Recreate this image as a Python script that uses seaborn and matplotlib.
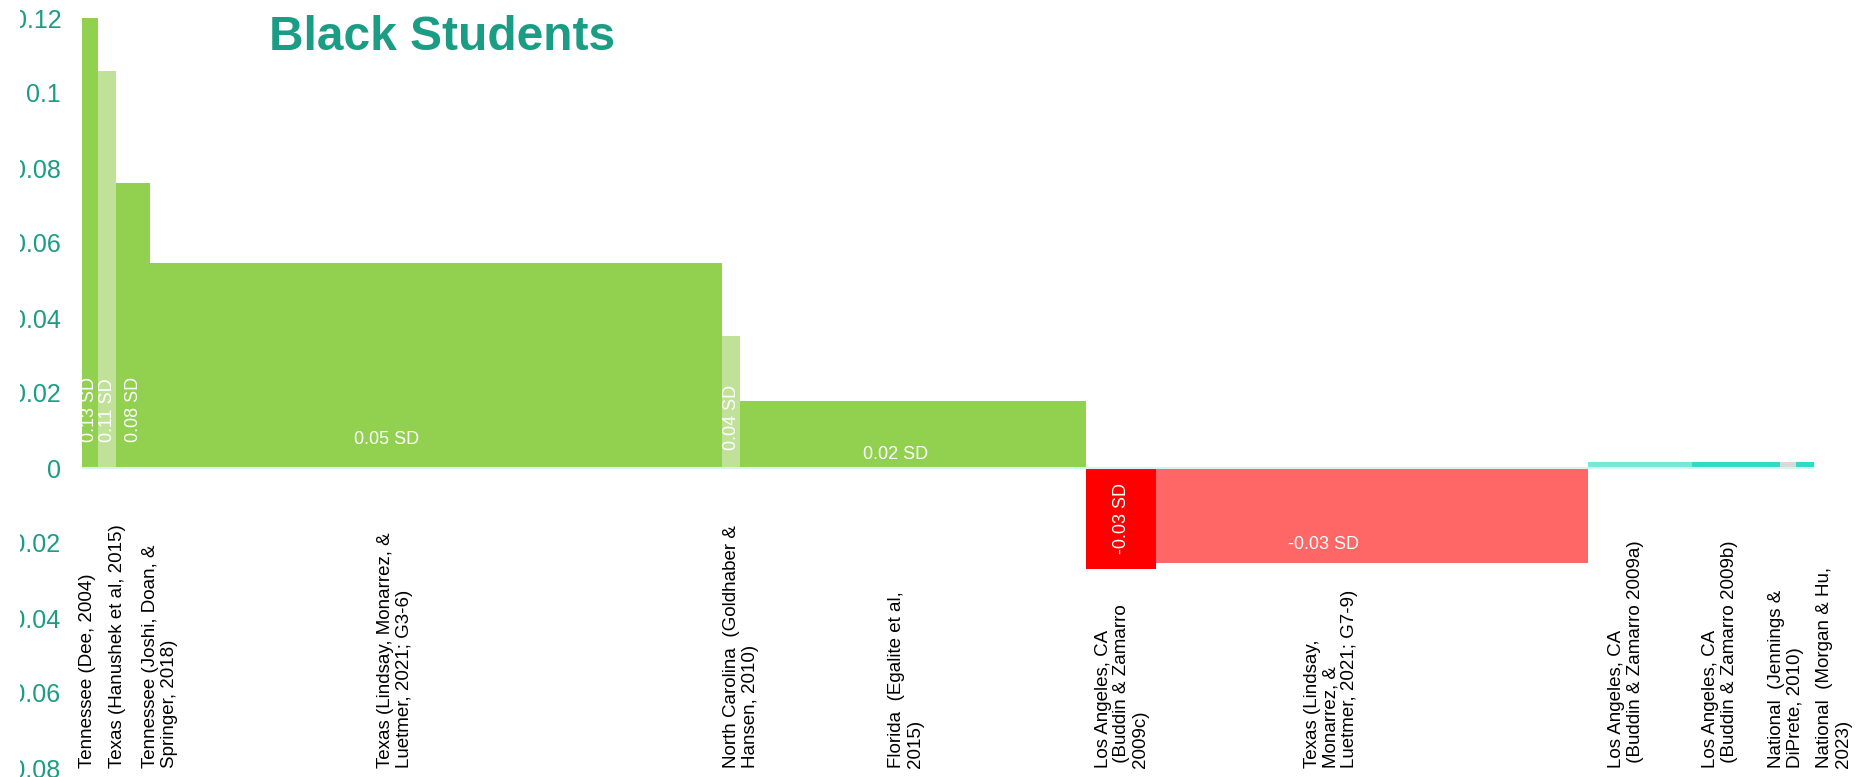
import numpy as np
import pandas as pd
import matplotlib
matplotlib.use("Agg")
import matplotlib.pyplot as plt
import seaborn as sns
from matplotlib.transforms import Bbox, TransformedBbox

# --- data -------------------------------------------------------------
studies = [
    "Tennessee (Dee, 2004)",
    "Texas (Hanushek et al, 2015)",
    "Tennessee (Joshi, Doan, &\nSpringer, 2018)",
    "Texas (Lindsay, Monarrez, &\nLuetmer, 2021; G3-6)",
    "North Carolina  (Goldhaber &\nHansen, 2010)",
    "Florida  (Egalite et al,\n2015)",
    "Los Angeles, CA\n (Buddin & Zamarro\n2009c)",
    "Texas (Lindsay,\nMonarrez, &\nLuetmer, 2021; G7-9)",
    "Los Angeles, CA\n (Buddin & Zamarro 2009a)",
    "Los Angeles, CA\n (Buddin & Zamarro 2009b)",
    "National  (Jennings &\nDiPrete, 2010)",
    "National  (Morgan & Hu,\n2023)",
]
effect_sd = [0.13, 0.106, 0.076, 0.0547, 0.0351, 0.018,
             -0.027, -0.0253, 0.0016, 0.0016, 0.0016, 0.0016]
study_weight = [16, 18, 34, 572, 18, 346, 70, 432, 104, 88, 16, 18]
show_value = [True] * 8 + [False] * 4
y_ticks = [0.12, 0.10, 0.08, 0.06, 0.04, 0.02, 0.0,
           -0.02, -0.04, -0.06, -0.08]

# --- styling ----------------------------------------------------------
bar_colors = ["#92D050", "#C0E298", "#92D050", "#92D050", "#C0E298", "#92D050",
              "#FF0000", "#FF6666", "#76E8D8", "#2EDBC6", "#D9D9D9", "#2EDBC6"]
teal = "#1B9C85"
zero_color = "#D4F5EF"

# label placement (horizontal shifts in width units, anchors in SD units)
tick_shift = [-2, 10, 27, -41, 10, -7, 1, -41, -14, -16, -2, 29]
value_shift = [0, 0, 0, -49, 0, -17, 0, -48]
value_rot = [90, 90, 90, 0, 90, 0, 90, 0]
value_y = [0.0069, 0.0069, 0.0069, 0.0077, 0.0048, 0.0037, -0.0135, -0.0205]
value_va = ["bottom", "bottom", "bottom", "center", "bottom", "center", "center", "center"]

sns.set_theme(style="white")
plt.rcParams["font.family"] = ["Liberation Sans", "DejaVu Sans"]

W, H = 1857, 777
fig = plt.figure(figsize=(W / 100, H / 100), dpi=100)
ax = fig.add_axes([82 / W, 1 - 768 / H, (1814 - 82) / W, (768 - 18) / H])

edges = np.concatenate([[0.0], np.cumsum(study_weight)])
centers = (edges[:-1] + edges[1:]) / 2
df = pd.DataFrame({"study": studies, "center": centers, "effect": effect_sd})

sns.histplot(
    data=df, x="center", weights="effect", bins=[float(e) for e in edges],
    hue="study", hue_order=studies,
    palette=dict(zip(studies, bar_colors)),
    multiple="layer", alpha=1, linewidth=0, legend=False, ax=ax,
)

ax.axhline(0, color=zero_color, lw=1.5, zorder=3)

ax.set_xlim(edges[0], edges[-1])
ax.set_ylim(y_ticks[-1], y_ticks[0])
ax.set_xlabel("")
ax.set_ylabel("")
ax.set_xticks([])
ax.set_yticks(y_ticks)
ax.set_yticklabels([f"{t:g}" for t in np.round(y_ticks, 2)])
ax.tick_params(axis="y", length=0, pad=15, labelsize=18, labelcolor=teal)
for s in ax.spines.values():
    s.set_visible(False)
ax.grid(False)

# tick labels are cut off at a fixed left margin
clip = TransformedBbox(Bbox.from_extents(20 / W, 0, 1, 1), fig.transFigure)
for lbl in ax.get_yticklabels():
    lbl.set_clip_box(clip)
    lbl.set_clip_on(True)

# study names, rotated and anchored at the bottom of the plot
for name, cx, dx in zip(studies, centers, tick_shift):
    ax.text(cx + dx, y_ticks[-1], name, rotation=90, ha="center", va="bottom",
            multialignment="left", fontsize=13.5, color="black",
            linespacing=1.1)

# effect-size labels
k = 0
for i, (cx, v) in enumerate(zip(centers, effect_sd)):
    if not show_value[i]:
        continue
    ax.text(cx + value_shift[k], value_y[k], f"{v:.2f} SD", rotation=value_rot[k],
            ha="center", va=value_va[k], fontsize=13, color="white", zorder=5)
    k += 1

fig.text(442 / W, 1 - 50 / H, "Black Students", ha="center", va="baseline",
         fontsize=34.5, fontweight="bold", color=teal)

fig.savefig("out.png", dpi=100, facecolor="white")
